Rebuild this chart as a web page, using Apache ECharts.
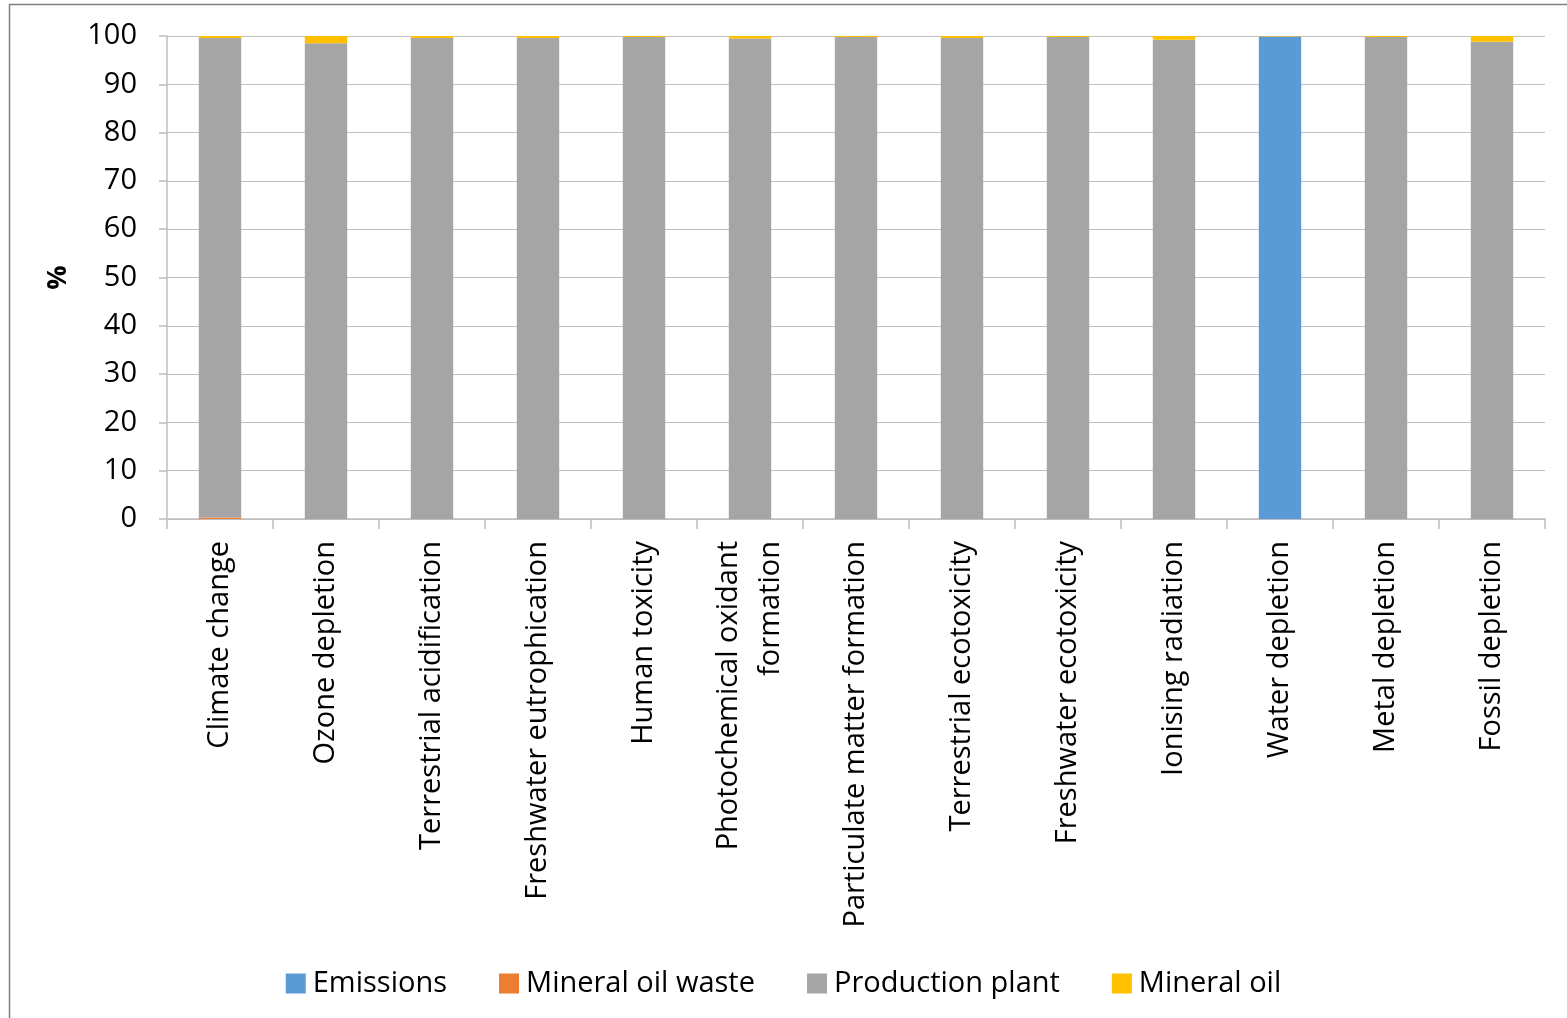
<!DOCTYPE html>
<html>
<head>
<meta charset="utf-8">
<script src="https://cdn.jsdelivr.net/npm/echarts@6/dist/echarts.min.js"></script>
<style>
  html, body { margin: 0; padding: 0; background: #fff; }
  #chart { width: 1567px; height: 1018px; }
</style>
</head>
<body>
<div id="chart"></div>
<script>
// Impact categories (x axis)
const categories = [
  'Climate change', 'Ozone depletion', 'Terrestrial acidification',
  'Freshwater eutrophication', 'Human toxicity', 'Photochemical oxidant\nformation',
  'Particulate matter formation', 'Terrestrial ecotoxicity', 'Freshwater ecotoxicity',
  'Ionising radiation', 'Water depletion', 'Metal depletion', 'Fossil depletion'
];

// Contribution shares, % of each category total
const emissions        = [0, 0, 0, 0, 0, 0, 0, 0, 0, 0, 99.9, 0, 0];
const mineralOilWaste  = [0.3, 0, 0, 0, 0, 0, 0, 0, 0, 0, 0, 0, 0];
const productionPlant  = [99.3, 98.5, 99.6, 99.6, 99.8, 99.5, 99.8, 99.6, 99.8, 99.2, 0, 99.8, 98.8];
const mineralOil       = [0.4, 1.5, 0.4, 0.4, 0.2, 0.5, 0.2, 0.4, 0.2, 0.8, 0.1, 0.2, 1.2];

// Y axis ticks
const yTicks = [0, 10, 20, 30, 40, 50, 60, 70, 80, 90, 100];

const FONT = 'Open Sans';
const chart = echarts.init(document.getElementById('chart'), null, { renderer: 'canvas' });

function bar(name, data, color) {
  return {
    name, type: 'bar', stack: 'total', data,
    barWidth: '40%',
    itemStyle: { color },
    emphasis: { disabled: true }
  };
}

chart.setOption({
  animation: false,
  textStyle: { fontFamily: FONT },
  graphic: [
    {
      type: 'polyline',
      shape: { points: [[9.5, 1018], [9.5, 4.5], [1567, 4.5]] },
      style: { stroke: '#7f7f7f', lineWidth: 1.5, fill: null },
      silent: true
    }
  ],
  grid: { left: 167, right: 22, top: 36, bottom: 499, containLabel: false },
  legend: {
    bottom: 15,
    left: 'center',
    itemWidth: 20,
    itemHeight: 20,
    itemGap: 52,
    icon: 'rect',
    textStyle: { fontFamily: FONT, fontSize: 29, color: '#000', padding: [0, 0, 0, 2] },
    data: ['Emissions', 'Mineral oil waste', 'Production plant', 'Mineral oil']
  },
  xAxis: {
    type: 'category',
    data: categories,
    boundaryGap: true,
    axisLine: { lineStyle: { color: '#bfbfbf', width: 1.5 } },
    axisTick: { show: true, length: 10, alignWithLabel: false, lineStyle: { color: '#bfbfbf', width: 1.5 } },
    axisLabel: {
      rotate: 90,
      interval: 0,
      margin: 22,
      fontFamily: FONT,
      fontSize: 29,
      color: '#000',
      lineHeight: 42
    }
  },
  yAxis: {
    type: 'value',
    min: yTicks[0],
    max: yTicks[yTicks.length - 1],
    interval: yTicks[1] - yTicks[0],
    name: '%',
    nameLocation: 'middle',
    nameGap: 95,
    nameRotate: 90,
    nameTextStyle: { fontFamily: FONT, fontSize: 27, fontWeight: 'bold', color: '#000' },
    axisLine: { show: true, lineStyle: { color: '#bfbfbf', width: 1.5 } },
    axisTick: { show: true, length: 8, lineStyle: { color: '#bfbfbf', width: 1.5 } },
    axisLabel: { fontFamily: FONT, fontSize: 29, color: '#000', margin: 30 },
    splitLine: { show: true, lineStyle: { color: '#bfbfbf', width: 1.2 } }
  },
  series: [
    bar('Emissions', emissions, '#5b9bd5'),
    bar('Mineral oil waste', mineralOilWaste, '#ed7d31'),
    bar('Production plant', productionPlant, '#a5a5a5'),
    bar('Mineral oil', mineralOil, '#ffc000')
  ]
});
</script>
</body>
</html>
